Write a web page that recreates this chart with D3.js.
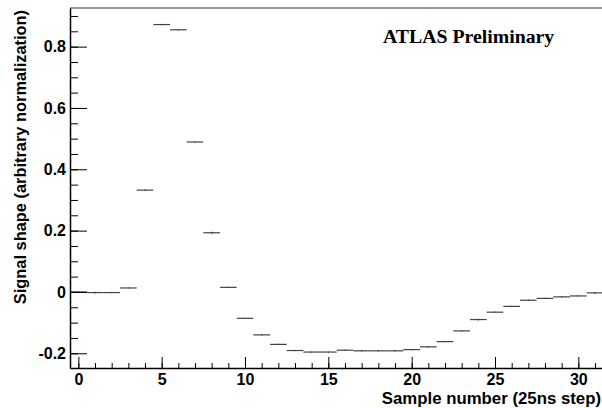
<!DOCTYPE html>
<html>
<head>
<meta charset="utf-8">
<script src="https://cdn.jsdelivr.net/npm/d3@7"></script>
<style>
  html, body { margin: 0; padding: 0; background: #fff; }
  svg { display: block; }
</style>
</head>
<body>
<svg id="chart"></svg>
<script>
// Bin centres (sample number) and the signal shape value of each bin
const samples = d3.range(0, 32);
const shapeValues = [
    0.000, -0.002, -0.002, 0.013, 0.332, 0.872, 0.855, 0.489,
    0.193, 0.015, -0.086, -0.140, -0.171, -0.191, -0.196, -0.196,
    -0.190, -0.192, -0.192, -0.192, -0.188, -0.179, -0.162, -0.127,
    -0.090, -0.066, -0.047, -0.027, -0.021, -0.016, -0.013, -0.003
];
const shapeErrors = [
    0.002, 0.003, 0.002, 0.002, 0.003, 0.002, 0.002, 0.002,
    0.003, 0.002, 0.002, 0.002, 0.002, 0.002, 0.002, 0.002,
    0.002, 0.002, 0.002, 0.002, 0.002, 0.002, 0.002, 0.002,
    0.003, 0.002, 0.002, 0.002, 0.002, 0.002, 0.002, 0.003
];
const yMajorTicks = [-0.2, 0, 0.2, 0.4, 0.6, 0.8];
const yTickLabels = ["-0.2", "0", "0.2", "0.4", "0.6", "0.8"];
const xMajorTicks = [0, 5, 10, 15, 20, 25, 30];

const W = 602, H = 408;
const margin = { top: 8, left: 70, bottom: 40 };
const svg = d3.select("#chart").attr("width", W).attr("height", H);

const xScale = d3.scaleLinear().domain([-0.5, 31.5]).range([margin.left, margin.left + 32 * 16.667]);
const yScale = d3.scaleLinear().domain([-0.248, 0.926]).range([H - margin.bottom, margin.top]);

const data = samples.map((s, i) => ({ x: s, y: shapeValues[i], e: shapeErrors[i] }));

// top frame line
svg.append("line")
    .attr("x1", margin.left).attr("x2", W)
    .attr("y1", margin.top).attr("y2", margin.top)
    .attr("stroke", "#777").attr("stroke-width", 1.5);

// histogram bins: horizontal segment over the bin width + tiny error bar
const bins = svg.append("g").attr("stroke", "#444").attr("stroke-width", 1.2);
bins.selectAll("line.bin")
    .data(data)
    .join("line")
    .attr("class", "bin")
    .attr("x1", d => xScale(d.x - 0.5))
    .attr("x2", d => xScale(d.x + 0.5))
    .attr("y1", d => yScale(d.y))
    .attr("y2", d => yScale(d.y));
bins.selectAll("line.err")
    .data(data)
    .join("line")
    .attr("class", "err")
    .attr("x1", d => xScale(d.x))
    .attr("x2", d => xScale(d.x))
    .attr("y1", d => yScale(d.y - d.e))
    .attr("y2", d => yScale(d.y + d.e));

const tickFont = "'Liberation Sans', Arial, sans-serif";

// Y axis: minor ticks then major ticks with labels
const yMinor = d3.range(-0.2, 0.9001, 0.05);
svg.append("g")
    .attr("transform", `translate(${margin.left},0)`)
    .call(d3.axisLeft(yScale).tickValues(yMinor).tickSizeInner(-8).tickSizeOuter(0).tickFormat(""))
    .call(g => g.select(".domain").attr("stroke-width", 1.5));
svg.append("g")
    .attr("transform", `translate(${margin.left},0)`)
    .call(d3.axisLeft(yScale).tickValues(yMajorTicks).tickSizeInner(-17).tickSizeOuter(0).tickPadding(4)
        .tickFormat((d, i) => yTickLabels[i]))
    .call(g => g.select(".domain").remove())
    .selectAll("text")
    .style("font-family", tickFont)
    .style("font-weight", "bold")
    .style("font-size", "16px")
    .attr("fill", "#000");

// X axis
const yBottom = H - margin.bottom;
svg.append("g")
    .attr("transform", `translate(0,${yBottom})`)
    .call(d3.axisBottom(xScale).tickValues(samples).tickSizeInner(-5).tickSizeOuter(0).tickFormat(""))
    .call(g => g.select(".domain").attr("stroke-width", 1.5));
svg.append("g")
    .attr("transform", `translate(0,${yBottom})`)
    .call(d3.axisBottom(xScale).tickValues(xMajorTicks).tickSizeInner(-11).tickSizeOuter(0).tickPadding(6))
    .call(g => g.select(".domain").remove())
    .selectAll("text")
    .style("font-family", tickFont)
    .style("font-weight", "bold")
    .style("font-size", "16px")
    .attr("fill", "#000");

// axis titles
svg.append("text")
    .attr("x", 601).attr("y", 404)
    .attr("text-anchor", "end")
    .style("font-family", tickFont)
    .style("font-weight", "bold")
    .style("font-size", "16.8px")
    .text("Sample number (25ns step)");

svg.append("text")
    .attr("transform", "translate(26,10) rotate(-90)")
    .attr("text-anchor", "end")
    .style("font-family", tickFont)
    .style("font-weight", "bold")
    .style("font-size", "16.4px")
    .text("Signal shape (arbitrary normalization)");

// label
svg.append("text")
    .attr("x", 383).attr("y", 43)
    .style("font-family", "'Liberation Serif', 'Times New Roman', serif")
    .style("font-weight", "bold")
    .style("font-size", "19.8px")
    .text("ATLAS Preliminary");
</script>
</body>
</html>
